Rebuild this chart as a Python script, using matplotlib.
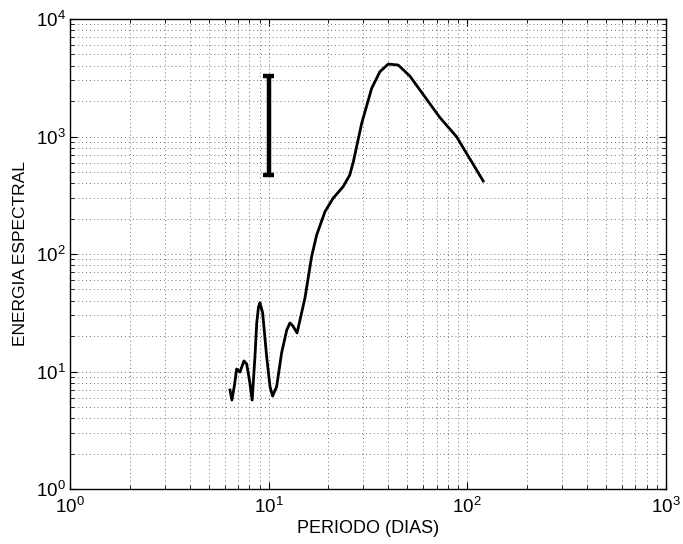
import numpy as np
import matplotlib
matplotlib.use("Agg")
import matplotlib.pyplot as plt
from matplotlib.ticker import LogLocator, NullFormatter

plt.rcParams['font.family'] = ['Liberation Sans', 'DejaVu Sans']
plt.rcParams['mathtext.default'] = 'regular'

# spectrum (period in days, spectral energy)
periodo = [6.39, 6.53, 6.73, 6.90, 7.17, 7.51, 7.75, 8.0, 8.26, 8.53, 8.71,
           8.89, 9.04, 9.33, 9.77, 10.16, 10.47, 10.97, 11.62, 12.33, 12.8,
           13.25, 13.9, 15.23, 16.45, 17.44, 19.2, 21.1, 23.7, 25.6, 26.7,
           29.4, 33.0, 36.3, 40.0, 44.9, 51.4, 72.8, 88.3, 120.3]
energia = [6.96, 5.72, 7.67, 10.5, 9.9, 12.3, 11.6, 8.5, 5.72, 13.3, 25.9,
           35.4, 38.5, 31.5, 13.4, 7.43, 6.19, 7.43, 14.4, 22.5, 25.9,
           24.4, 21.3, 42.2, 94.8, 145.0, 229.0, 298.0, 374.0, 470.0, 611.0,
           1295.0, 2570.0, 3560.0, 4140.0, 4060.0, 3270.0, 1450.0, 996.0, 418.0]

# confidence interval bar
barra_x = 10.0
barra_lo = 470.0
barra_hi = 3290.0

fig = plt.figure(figsize=(6.83, 5.44), dpi=100)
ax = fig.add_axes([0.1025, 0.1011, 0.8725, 0.8639])

ax.loglog(periodo, energia, color='black', linewidth=2.0)
ax.vlines(barra_x, barra_lo, barra_hi, color='black', linewidth=3.2)
for yv in (barra_lo, barra_hi):
    ax.hlines(yv, barra_x * 0.935, barra_x * 1.07, color='black', linewidth=3.2)

ax.set_xlim(1, 1000)
ax.set_ylim(1, 10000)

for a in (ax.xaxis, ax.yaxis):
    a.set_major_locator(LogLocator(base=10, numticks=10))
    a.set_minor_locator(LogLocator(base=10, subs=np.arange(2, 10), numticks=10))
    a.set_minor_formatter(NullFormatter())

ax.grid(True, which='both', linestyle=(0, (1, 3)), color='0.45', linewidth=0.7)
ax.tick_params(which='both', direction='in', top=True, right=True, labelsize=13.5)
ax.tick_params(which='major', length=5)
ax.tick_params(which='minor', length=3)
ax.tick_params(axis='x', which='major', pad=6)
ax.tick_params(axis='y', which='major', pad=3)
for s in ax.spines.values():
    s.set_linewidth(1.0)

ax.set_xlabel('PERIODO (DIAS)', fontsize=13, labelpad=2)
ax.set_ylabel('ENERGIA ESPECTRAL', fontsize=12.5, labelpad=6)

fig.savefig('out.png', dpi=100)
